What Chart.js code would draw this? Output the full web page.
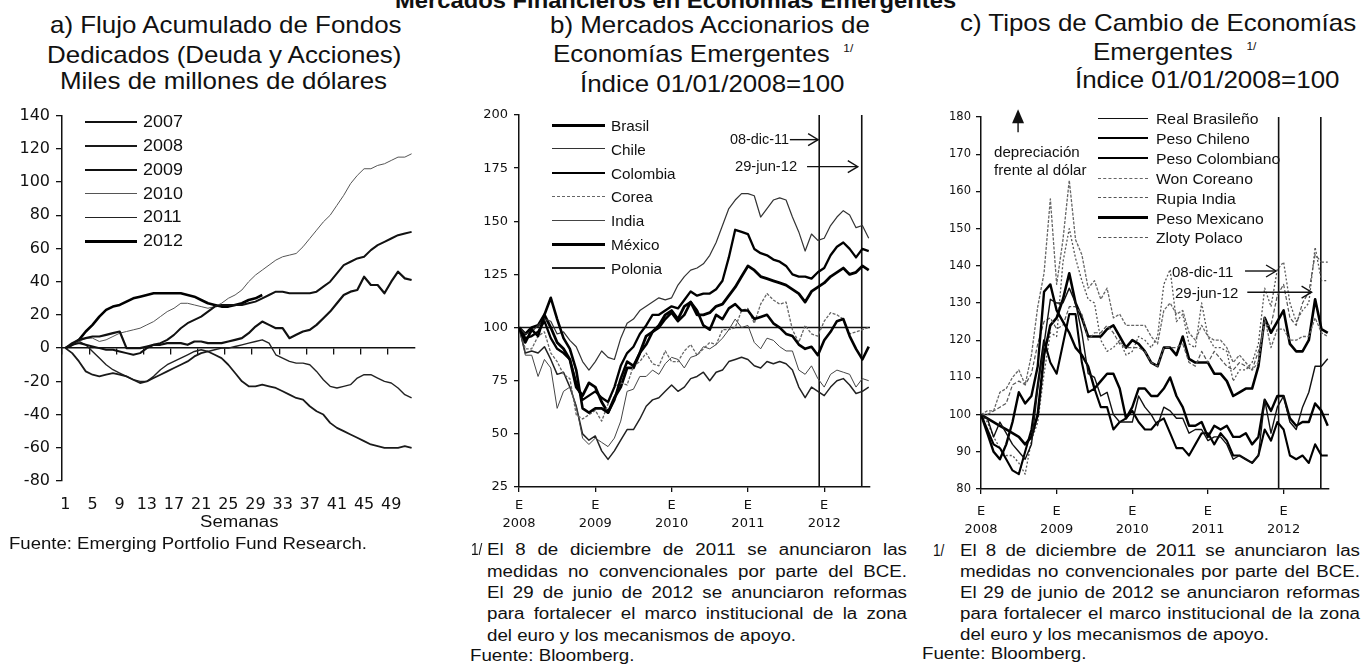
<!DOCTYPE html>
<html><head><meta charset="utf-8">
<script src="https://cdn.jsdelivr.net/npm/chart.js@4.4.1/dist/chart.umd.min.js"></script>
<style>
html,body{margin:0;padding:0;background:#fff;}
body{position:relative;width:1361px;height:669px;overflow:hidden;font-family:"Liberation Sans",Arial,Helvetica,sans-serif;color:#111;}
.tx{position:absolute;white-space:nowrap;line-height:1;transform-origin:0 0;}
.box{position:absolute;}
</style></head><body>
<div class="box" style="left:0;top:100px;width:440px;height:440px"><canvas id="ca" width="440" height="440"></canvas></div>
<div class="box" style="left:440px;top:100px;width:440px;height:440px"><canvas id="cb" width="440" height="440"></canvas></div>
<div class="box" style="left:920px;top:100px;width:441px;height:440px"><canvas id="cc" width="441" height="440"></canvas></div>
<script>
// ================= DATA =================
// Panel a: cumulative dedicated fund flows, weeks 1..52 (billions of USD)
const weeks = [1,2,3,4,5,6,7,8,9,10,11,12,13,14,15,16,17,18,19,20,21,22,23,24,25,26,27,28,29,30,31,32,33,34,35,36,37,38,39,40,41,42,43,44,45,46,47,48,49,50,51,52];
const flowYears = ['2007','2008','2009','2010','2011','2012'];
const flow2007 = [0,3,5,6,7,7,8,9,10,0, 0,0,1,2,2,3,3,3,2,4, 4,3,3,3,4,5,6,9,13,16, 14,12,12,6,8,10,11,14,18,22, 27,32,34,35,43,38,38,33,40,46, 42,41];
const flow2008 = [0,-3,-8,-14,-16,-17,-16,-15,-16,-17, -19,-21,-20,-18,-16,-14,-12,-10,-8,-5, -3,-2,-4,-6,-10,-15,-20,-23,-23,-22, -23,-24,-26,-28,-30,-31,-35,-38,-40,-45, -48,-50,-52,-54,-56,-58,-59,-60,-60,-60, -59,-60];
const flow2009 = [0,2,3,2,1,0,-1,-1,-2,-3, -4,-3,0,2,3,5,8,12,15,17, 19,22,25,26,26,26,26,27,28,30, 32,34,34,33,33,33,33,34,37,40, 45,50,52,54,55,59,62,64,66,68, 69,70];
const flow2010 = [0,2,4,6,6,4,5,7,9,10, 11,12,14,16,19,22,24,27,27,26, 25,24,25,27,30,32,35,40,44,47, 50,53,55,56,57,61,66,71,76,80, 86,92,99,104,108,108,110,111,113,115, 115,117];
const flow2011 = [0,2,4,2,-2,-6,-10,-13,-15,-17, -19,-20,-20,-17,-13,-10,-8,-6,-4,-2, -1,-2,-1,0,0,1,2,3,4,5, 3,-4,-6,-8,-9,-9,-10,-14,-19,-23, -24,-23,-22,-18,-16,-16,-18,-20,-21,-24, -28,-30];
const flow2012 = [0,2,5,10,14,19,23,25,26,28, 30,31,32,33,33,33,33,33,32,31, 29,27,26,25,25,26,27,29,30,32, null,null,null,null,null,null,null,null,null,null, null,null,null,null,null,null,null,null,null,null, null,null];
const yTicksA = [-80,-60,-40,-20,0,20,40,60,80,100,120,140];

// Panels b and c: monthly readings, index 01/01/2008 = 100
const months = ['2008-01','2008-02','2008-03','2008-04','2008-05','2008-06','2008-07','2008-08','2008-09','2008-10','2008-11','2008-12',
'2009-01','2009-02','2009-03','2009-04','2009-05','2009-06','2009-07','2009-08','2009-09','2009-10','2009-11','2009-12',
'2010-01','2010-02','2010-03','2010-04','2010-05','2010-06','2010-07','2010-08','2010-09','2010-10','2010-11','2010-12',
'2011-01','2011-02','2011-03','2011-04','2011-05','2011-06','2011-07','2011-08','2011-09','2011-10','2011-11','2011-12',
'2012-01','2012-02','2012-03','2012-04','2012-05','2012-06','2012-07','2012-08'];

const stockNames = ['Brasil','Chile','Colombia','Corea','India','México','Polonia'];
const stockBrasil = [100,93,99,96,106,114,104,95,90,80,62,60, 62,62,60,66,76,84,82,88,92,98,100,104, 107,103,106,112,108,101,99,106,104,109,111,108, 108,104,105,106,102,100,97,96,92,90,91,87, 94,98,103,104,96,90,85,91];
const stockChile = [100,97,98,101,104,103,97,98,94,91,84,80, 84,89,86,85,95,102,104,108,110,112,114,113, 114,120,124,127,128,130,134,140,148,156,160,163, 163,162,152,156,160,161,160,152,145,136,144,141, 142,148,152,155,153,147,148,142];
const stockColombia = [100,95,96,98,103,95,90,88,85,74,66,68, 70,67,65,72,82,88,91,97,101,106,106,108, 110,109,113,117,115,116,116,118,122,133,146,145, 144,137,135,134,132,131,129,125,124,124,123,126, 128,134,138,140,137,133,137,136];
const stockCorea = [100,90,90,96,98,88,84,78,76,59,57,59, 61,56,64,72,74,73,82,84,88,83,82,89, 84,84,89,92,87,90,93,92,99,99,100,108, 109,102,111,116,113,111,112,99,93,101,97,96, 103,107,106,104,97,98,99,100];
const stockIndia = [100,87,87,77,85,81,62,70,72,63,48,45, 48,46,44,48,56,70,71,77,77,80,78,83, 86,85,81,86,87,91,90,92,95,99,104,100, 101,93,90,95,94,91,89,89,80,78,82,76, 72,78,80,79,78,72,76,75];
const stockMexico = [100,97,100,101,106,100,93,90,85,72,68,74, 72,65,60,67,72,81,81,88,96,98,101,106, 108,104,110,112,106,106,107,110,111,115,119,124, 129,127,124,123,122,121,120,118,116,112,117,119, 121,124,126,128,125,126,129,127];
const stockPolonia = [100,88,89,88,91,85,78,79,72,63,50,47, 49,42,38,42,47,52,52,57,63,66,67,70, 73,70,72,76,77,79,75,79,80,84,85,86, 85,82,81,84,83,84,83,80,72,67,72,70, 68,72,75,76,73,69,70,72];
const yTicksB = [25,50,75,100,125,150,175,200];

const fxNames = ['Real Brasileño','Peso Chileno','Peso Colombiano','Won Coreano','Rupia India','Peso Mexicano','Zloty Polaco'];
const fxBRL = [100,99,94,98,95,92,90,88,92,107,119,131, 130,130,134,130,122,111,110,105,106,100,98,98, 98,105,102,100,97,102,101,99,99,95,96,96, 93,94,94,92,88,89,88,87,89,104,95,102, 105,98,96,102,106,113,113,115];
const fxCLP = [100,95,90,88,92,98,106,103,105,113,133,135, 128,125,122,118,116,113,107,109,111,111,107,99, 102,107,107,105,105,107,110,105,102,97,97,98, 94,97,96,97,94,94,95,92,94,104,101,105, 105,99,97,98,98,103,101,97];
const fxCOP = [100,96,92,91,88,85,84,90,96,108,120,114, 111,119,127,127,114,106,107,102,102,96,98,99, 101,98,96,96,98,99,95,91,91,89,92,95, 95,92,95,93,89,89,88,87,89,96,93,98, 96,89,88,89,87,92,89,89];
const fxKRW = [100,101,101,106,107,110,112,108,116,129,138,158, 135,147,163,147,143,134,136,131,134,126,127,124, 124,124,124,121,119,128,130,127,128,122,120,124, 121,120,120,118,114,116,114,112,114,126,118,123, 123,120,120,121,121,126,122,121];
const fxINR = [100,100,101,102,103,108,109,108,111,119,125,126, 123,124,129,129,127,120,122,122,124,122,119,118, 118,118,117,114,113,118,118,118,119,114,113,117, 114,117,115,113,112,114,113,112,117,124,124,132, 135,126,124,130,133,143,141,141];
const fxMXN = [100,99,98,97,96,95,94,92,94,100,116,124, 126,131,138,130,126,121,121,121,123,124,121,118, 120,119,117,114,113,118,118,116,121,115,114,114, 114,111,111,109,105,106,107,107,113,126,122,125, 128,119,117,117,120,131,123,122];
const fxPLN = [100,98,94,91,89,89,87,84,93,98,111,122, 121,141,150,142,136,131,130,120,117,118,120,116, 117,121,120,118,121,135,139,125,127,119,118,130, 121,118,118,117,109,112,112,114,119,134,129,139, 141,130,125,128,130,145,136,136];
const yTicksC = [80,90,100,110,120,130,140,150,160,170,180];

const yearTicks = [2008,2009,2010,2011,2012];
const eventDates = ['2011-12-08','2012-06-29'];
const eventLabels = ['08-dic-11','29-jun-12'];
const baseLevel = 100;

// ================= HELPERS =================
function dec(s){const p=s.split('-').map(Number);if(p.length===2)return p[0]+(p[1]-1)/12;
  const a=Date.UTC(p[0],0,1),b=Date.UTC(p[0]+1,0,1);return p[0]+(Date.UTC(p[0],p[1]-1,p[2])-a)/(b-a);}
const monthX = months.map(dec);
const eventX = eventDates.map(dec);
const X_MIN = 2008, X_MAX = 2012.6;

function txt(s,x,base,size,sx,o){o=o||{};const d=document.createElement('div');d.className='tx';d.innerHTML=s;
  d.style.left=x+'px';d.style.top=(base-size*0.8465)+'px';d.style.fontSize=size+'px';d.style.transform='scaleX('+sx+')';
  if(o.bold)d.style.fontWeight='bold';document.body.appendChild(d);return d;}
function para(lines,x,base0,dy,width,size,sx){lines.forEach((l,i)=>{const d=txt(l,x,base0+i*dy,size,sx);
  if(i<lines.length-1){d.style.width=(width/sx)+'px';d.style.whiteSpace='normal';d.style.textAlign='justify';d.style.textAlignLast='justify';}});}
function legend(names,styles,x0,x1,tx,y0,dy,size,sx){names.forEach((n,i)=>{const cy=y0+i*dy,st=styles[i];
  const w=Math.max(1,Math.round(st.w));const ln=document.createElement('div');
  ln.style.cssText='position:absolute;left:'+x0+'px;width:'+(x1-x0)+'px;height:0;top:'+(cy-w/2)+'px;border-top:'+w+'px '+(st.dash?'dashed':'solid')+' '+st.c;
  document.body.appendChild(ln);txt(n,tx,cy+size*0.36,size,sx);});}

const arrowPlugin={id:'arrowNotes',afterDatasetsDraw(chart,args,opts){const items=(opts&&opts.items)||[];
  const ctx=chart.ctx,xs=chart.scales.x,ys=chart.scales.y;ctx.save();ctx.strokeStyle='#111';ctx.fillStyle='#111';ctx.lineWidth=1.4;
  items.forEach(it=>{if(it.dir==='up'){const px=xs.getPixelForValue(it.x),p0=ys.getPixelForValue(it.y0),p1=ys.getPixelForValue(it.y1);
      ctx.beginPath();ctx.moveTo(px,p0);ctx.lineTo(px,p1+12);ctx.stroke();
      ctx.beginPath();ctx.moveTo(px,p1);ctx.lineTo(px-6,p1+14);ctx.lineTo(px+6,p1+14);ctx.closePath();ctx.fill();}
    else{const p0=xs.getPixelForValue(it.x0),p1=xs.getPixelForValue(it.x1),py=ys.getPixelForValue(it.y);
      ctx.beginPath();ctx.moveTo(p0,py);ctx.lineTo(p1,py);ctx.stroke();
      ctx.beginPath();ctx.moveTo(p1-10,py-6);ctx.lineTo(p1,py);ctx.lineTo(p1-10,py+6);ctx.stroke();}});
  ctx.restore();}};

Chart.defaults.font.family='DejaVu Sans';
Chart.defaults.color='#111';
const INK='#111';

// ================= PANEL A =================
const flowSeries=[flow2007,flow2008,flow2009,flow2010,flow2011,flow2012];
const flowStyle=[{c:'#111',w:2.2},{c:'#1a1a1a',w:1.8},{c:'#111',w:2},{c:'#555',w:1},{c:'#222',w:1.4},{c:'#000',w:2.6}];
new Chart(document.getElementById('ca'),{type:'line',
  data:{labels:weeks,datasets:flowSeries.map((s,i)=>({label:flowYears[i],data:s,xAxisID:'x',yAxisID:'y',borderColor:flowStyle[i].c,borderWidth:flowStyle[i].w,pointRadius:0,tension:0,fill:false,borderJoinStyle:'round'}))},
  options:{responsive:false,animation:false,devicePixelRatio:1,layout:{padding:{left:0,right:25,top:13,bottom:0}},
    plugins:{legend:{display:false},tooltip:{enabled:false}},
    scales:{
      x:{type:'category',offset:true,border:{display:false},grid:{display:false},
        ticks:{autoSkip:false,maxRotation:0,minRotation:0,padding:6,font:{size:16},color:INK,
          callback:function(v,i){return i%4===0?this.getLabelForValue(v):'';}},
        afterFit:s=>{s.height=59;}},
      x0:{type:'category',position:{y:0},offset:true,ticks:{display:false,autoSkip:false},
        grid:{offset:true,drawOnChartArea:false,drawTicks:true,tickLength:6,lineWidth:1.3,color:c=>c.index%4===0?INK:'rgba(0,0,0,0)'},
        border:{display:true,color:INK,width:1.5}},
      y:{type:'linear',min:-80,max:140,afterBuildTicks:s=>{s.ticks=yTicksA.map(v=>({value:v}));},
        ticks:{padding:6,font:{size:16},color:INK},
        grid:{drawOnChartArea:false,drawTicks:true,tickLength:6,color:INK,lineWidth:1.3},
        border:{color:INK,width:1.5},afterFit:s=>{s.width=62;}}
    }}});

// ================= PANEL B =================
const stockSeries=[stockBrasil,stockChile,stockColombia,stockCorea,stockIndia,stockMexico,stockPolonia];
const stockStyle=[{c:'#000',w:2.6},{c:'#333',w:1.2},{c:'#000',w:2.3},{c:'#666',w:1.3,dash:[3,1.5]},{c:'#444',w:1},{c:'#000',w:2.8},{c:'#222',w:1.5}];
function refSets(ymin,ymax){const a=[{data:[{x:X_MIN,y:baseLevel},{x:X_MAX,y:baseLevel}],borderColor:INK,borderWidth:1.5,pointRadius:0}];
  eventX.forEach(t=>a.push({data:[{x:t,y:ymin},{x:t,y:ymax}],borderColor:INK,borderWidth:1.6,pointRadius:0}));return a;}
function timeScales(ticksY,ymin,ymax,yw,xh,xpad,xsize,ysize,ypad){return{
  x:{type:'linear',min:X_MIN,max:X_MAX,afterBuildTicks:s=>{s.ticks=yearTicks.map(v=>({value:v}));},
    ticks:{maxRotation:0,autoSkip:false,padding:xpad,font:{size:xsize,lineHeight:1.38},color:INK,callback:v=>['E',String(v)]},
    grid:{drawOnChartArea:false,drawTicks:true,tickLength:5,color:INK,lineWidth:1.3},border:{color:INK,width:1.5},afterFit:s=>{s.height=xh;}},
  y:{type:'linear',min:ymin,max:ymax,afterBuildTicks:s=>{s.ticks=ticksY.map(v=>({value:v}));},
    ticks:{padding:ypad,font:{size:ysize},color:INK},
    grid:{drawOnChartArea:false,drawTicks:true,tickLength:5,color:INK,lineWidth:1.3},border:{color:INK,width:1.5},afterFit:s=>{s.width=yw;}}};}
new Chart(document.getElementById('cb'),{type:'line',
  data:{datasets:stockSeries.map((s,i)=>({label:stockNames[i],data:s.map((v,k)=>({x:monthX[k],y:v})),borderColor:stockStyle[i].c,borderWidth:stockStyle[i].w,borderDash:stockStyle[i].dash||[],pointRadius:0,tension:0,borderJoinStyle:'round'})).concat(refSets(25,200))},
  options:{responsive:false,animation:false,devicePixelRatio:1,layout:{padding:{left:0,right:10,top:15,bottom:0}},
    plugins:{legend:{display:false},tooltip:{enabled:false},
      arrowNotes:{items:[{x0:2011.55,x1:2011.92,y:188.4},{x0:2011.775,x1:2012.44,y:175.7}]}},
    scales:timeScales(yTicksB,25,200,79,53,5,13,13,6)},plugins:[arrowPlugin]});

// ================= PANEL C =================
const fxSeries=[fxBRL,fxCLP,fxCOP,fxKRW,fxINR,fxMXN,fxPLN];
const fxStyle=[{c:'#111',w:1.4},{c:'#000',w:2.4},{c:'#000',w:2.1},{c:'#666',w:1.3,dash:[3,1.5]},{c:'#555',w:1.2,dash:[4,2]},{c:'#000',w:2.6},{c:'#555',w:1.3,dash:[2,2]}];
new Chart(document.getElementById('cc'),{type:'line',
  data:{datasets:fxSeries.map((s,i)=>({label:fxNames[i],data:s.map((v,k)=>({x:monthX[k],y:v})),borderColor:fxStyle[i].c,borderWidth:fxStyle[i].w,borderDash:fxStyle[i].dash||[],pointRadius:0,tension:0,borderJoinStyle:'round'})).concat(refSets(80,180))},
  options:{responsive:false,animation:false,devicePixelRatio:1,layout:{padding:{left:0,right:32,top:17,bottom:0}},
    plugins:{legend:{display:false},tooltip:{enabled:false},
      arrowNotes:{items:[{x0:2011.49,x1:2011.90,y:138.6},{x0:2011.52,x1:2012.37,y:132.9},{dir:'up',x:2008.49,y0:175.9,y1:182.1}]}},
    scales:timeScales(yTicksC,80,180,61,51,9,13,11.5,5)},plugins:[arrowPlugin]});

// ================= TEXT =================
txt('Mercados Financieros en Economías Emergentes',395,9,22,1.08,{bold:true});
txt('a) Flujo Acumulado de Fondos',50,33,24,1.08);
txt('Dedicados (Deuda y Acciones)',47,63,24,1.08);
txt('Miles de millones de dólares',60,89,24,1.08);
txt('b) Mercados Accionarios de',550,33,24,1.08);
txt('Economías Emergentes <span style="font-size:11px;position:relative;top:-10px;margin-left:6px">1/</span>',553,62,24,1.08);
txt('Índice 01/01/2008=100',580,92,24,1.08);
txt('c) Tipos de Cambio de Economías',960,31,24,1.08);
txt('Emergentes <span style="font-size:11px;position:relative;top:-10px;margin-left:6px">1/</span>',1093,60,24,1.08);
txt('Índice 01/01/2008=100',1075,88,24,1.08);

legend(flowYears,flowStyle,85,137,143,122,23.8,16,1.12);
legend(stockNames,stockStyle,552,605,611,125,23.9,15,1.02);
legend(fxNames,fxStyle,1098,1148,1156,118.3,19.9,15,1.05);

txt('Semanas',200,528,16,1.16);
txt('Fuente: Emerging Portfolio Fund Research.',9,550,16,1.16);

txt(eventLabels[0],730,144,14,1.03);
txt(eventLabels[1],735,171,14,1.05);
txt(eventLabels[0],1172,277,15,1.0);
txt(eventLabels[1],1175,298,15,1.0);
txt('depreciación',994,157,14,1.08);
txt('frente al dólar',994,175,14,1.08);

const note=['El 8 de diciembre de 2011 se anunciaron las','medidas no convencionales por parte del BCE.','El 29 de junio de 2012 se anunciaron reformas','para fortalecer el marco institucional de la zona','del euro y los mecanismos de apoyo.'];
txt('1/',471,556,16,0.85);
para(note,487,556,21.3,420,16,1.17);
txt('Fuente: Bloomberg.',470,662,16,1.17);
txt('1/',933,557,16,0.85);
para(note,960,557,20.8,400,16,1.17);
txt('Fuente: Bloomberg.',922,660,16,1.17);
</script>
</body></html>
